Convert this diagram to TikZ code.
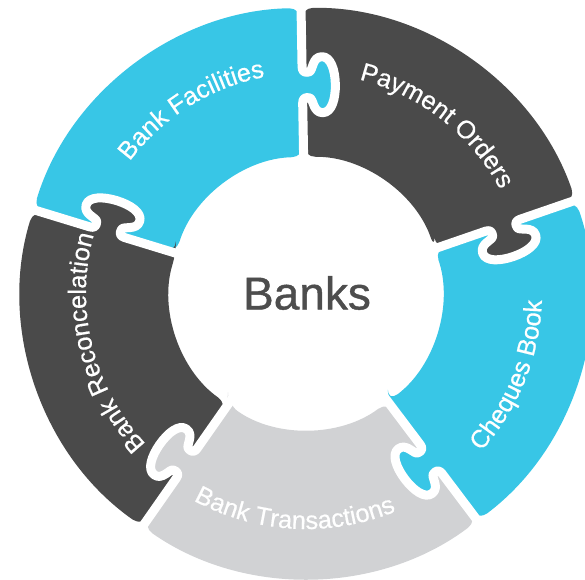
\documentclass[tikz,border=0pt]{standalone}
\usepackage{fontspec}
\setmainfont{Liberation Sans}
\newfontfamily\ringfont[FakeBold=0.5]{Liberation Sans}
\newfontfamily\hubfont[FakeBold=0.9]{Liberation Sans}
\usetikzlibrary{decorations.text}
\definecolor{bankblue}{HTML}{38C6E6}
\definecolor{bankdark}{HTML}{4A4A4A}
\definecolor{bankgray}{HTML}{D1D2D4}
\definecolor{banktext}{HTML}{4D4D4D}
\newcommand{\labelfont}{\ringfont\fontsize{19pt}{22pt}\selectfont}
\newcommand{\knobcurve}{.. controls (195,0) and (196,-3) .. (195,-7) .. controls (194,-11) and (180,-10) .. (180,-20) .. controls (180,-29) and (194,-33) .. (208,-33) .. controls (222,-33) and (236,-29) .. (236,-20) .. controls (236,-10) and (222,-11) .. (221,-7) .. controls (220,-3) and (221,0) .. (226,0)}

\begin{document}
\begin{tikzpicture}[x=0.75pt,y=0.75pt,
  gap/.style={draw=white,line width=6.75pt,line join=round},
  ring label/.style={decorate,decoration={text along path,text align=center,text color=white}}]
  \useasboundingbox (-306,-286) rectangle (279,293);

  % ring pieces
  \foreach \a/\b/\c in {91/163/bankblue,19/91/bankdark,-53/19/bankblue,-125/-53/bankgray,163/235/bankdark}
    \fill[\c,rounded corners=9pt] (\a:136) -- (\a:285) arc[start angle=\a,end angle=\b,radius=285]
      -- (\b:136) arc[start angle=\b,end angle=\a,radius=136] -- cycle;

  % knobs and the white gaps
  \foreach \a/\c in {91/bankblue,19/bankdark,-53/bankblue,-125/bankgray,163/bankdark}{
    \begin{scope}[rotate=\a]
      \fill[\c] (190,3) -- (190,0) \knobcurve -- (226,3) -- cycle;
      \draw[gap] (100,0) -- (190,0) \knobcurve -- (310,0);
    \end{scope}
  }

  \node[text=banktext,font=\hubfont\fontsize{34.5pt}{40pt}\selectfont] (banks) at (1,0) {Banks};

  \path[ring label,decoration={text={|\labelfont|Bank Facilities}}]
    (182:220) arc[start angle=182,end angle=62,radius=220];
  \path[ring label,decoration={text={|\labelfont|Payment Orders}}]
    (112:220) arc[start angle=112,end angle=-8,radius=220];
  \path[ring label,decoration={text={|\labelfont|Cheques Book}}]
    (-82:236) arc[start angle=-82,end angle=38,radius=236];
  \path[ring label,decoration={text={|\labelfont|Bank Transactions}}]
    (-153:236) arc[start angle=-153,end angle=-33,radius=236];
  \path[ring label,decoration={text={|\labelfont|Bank Reconcelation}}]
    (254:220) arc[start angle=254,end angle=134,radius=220];
\end{tikzpicture}
\end{document}
